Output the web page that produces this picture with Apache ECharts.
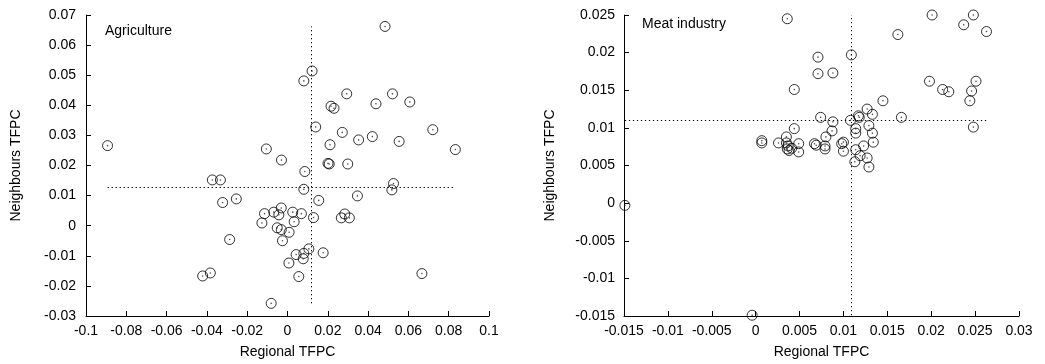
<!DOCTYPE html>
<html>
<head>
<meta charset="utf-8">
<script src="https://cdn.jsdelivr.net/npm/echarts@6/dist/echarts.min.js"></script>
<style>
  html, body { margin: 0; padding: 0; background: #fff; }
  #chart { width: 1045px; height: 364px; }
</style>
</head>
<body>
<div id="chart"></div>
<script>
// Regional vs neighbours TFPC, agriculture
const agriRegional = [
  -0.0893, -0.0105, -0.0030, 0.0081, 0.0122, 0.0086, 0.0484, 0.0294, 0.0521, 0.0439,
  0.0607, 0.0216, 0.0231, 0.0140, 0.0272, 0.0721, 0.0353, 0.0421, 0.0554, 0.0211,
  0.0833, 0.0201, 0.0207, 0.0299, -0.0373, -0.0333, 0.0081, -0.0322, -0.0254, -0.0031,
  -0.0114, -0.0068, -0.0043, 0.0026, 0.0069, 0.0033, -0.0127, 0.0129, -0.0051, -0.0031,
  0.0008, -0.0025, -0.0287, 0.0106, 0.0043, 0.0081, 0.0078, 0.0007, 0.0056, -0.0421,
  -0.0383, -0.0081, 0.0155, 0.0347, 0.0526, 0.0518, 0.0284, 0.0267, 0.0307, 0.0177,
  0.0667
];
const agriNeighbours = [
  0.0266, 0.0255, 0.0218, 0.0481, 0.0514, 0.0180, 0.0662, 0.0438, 0.0438, 0.0405,
  0.0411, 0.0397, 0.0390, 0.0328, 0.0310, 0.0319, 0.0285, 0.0296, 0.0280, 0.0269,
  0.0253, 0.0207, 0.0205, 0.0205, 0.0152, 0.0152, 0.0121, 0.0077, 0.0089, 0.0059,
  0.0040, 0.0045, 0.0036, 0.0045, 0.0040, 0.0013, 0.0009, 0.0027, -0.0007, -0.0013,
  -0.0022, -0.0050, -0.0046, -0.0077, -0.0096, -0.0092, -0.0110, -0.0124, -0.0169, -0.0167,
  -0.0157, -0.0258, 0.0084, 0.0099, 0.0140, 0.0119, 0.0039, 0.0026, 0.0026, -0.0090,
  -0.0159
];
const agriRefX = 0.0119;
const agriRefY = 0.0129;

// Regional vs neighbours TFPC, meat industry
const meatRegional = [
  0.0036, 0.0044, 0.0044, 0.0007, 0.0007, 0.0026, 0.0035, 0.0035, 0.0037, 0.0036,
  0.0038, 0.0041, 0.0049, 0.0049, 0.0067, 0.0069, 0.0079, 0.0079, 0.0080, 0.0087,
  0.0088, 0.0074, 0.0098, 0.0100, 0.0100, 0.0108, 0.0118, 0.0117, 0.0114, 0.0114,
  0.0129, 0.0133, 0.0134, 0.0123, 0.0114, 0.0119, 0.0113, 0.0127, 0.0129, 0.0127,
  0.0133, 0.0145, 0.0166, 0.0071, 0.0109, 0.0071, 0.0088, 0.0162, 0.0201, 0.0248,
  0.0237, 0.0263, 0.0198, 0.0213, 0.0220, 0.0251, 0.0246, 0.0244, 0.0248, -0.0149,
  -0.0004
];
const meatNeighbours = [
  0.0245, 0.0151, 0.0099, 0.0083, 0.0080, 0.0080, 0.0088, 0.0080, 0.0076, 0.0072,
  0.0070, 0.0073, 0.0079, 0.0068, 0.0079, 0.0077, 0.0076, 0.0072, 0.0088, 0.0096,
  0.0108, 0.0114, 0.0079, 0.0081, 0.0069, 0.0110, 0.0114, 0.0116, 0.0099, 0.0093,
  0.0103, 0.0093, 0.0081, 0.0076, 0.0071, 0.0063, 0.0055, 0.0060, 0.0048, 0.0125,
  0.0118, 0.0136, 0.0114, 0.0194, 0.0197, 0.0172, 0.0173, 0.0224, 0.0250, 0.0250,
  0.0237, 0.0228, 0.0162, 0.0151, 0.0148, 0.0162, 0.0149, 0.0136, 0.0101, -0.0003,
  -0.0149
];
const meatRefX = 0.0109;
const meatRefY = 0.0110;

// Axis ranges and tick spacing
const agriXAxis = { min: -0.1, max: 0.1, interval: 0.02 };
const agriYAxis = { min: -0.03, max: 0.07, interval: 0.01 };
const meatXAxis = { min: -0.015, max: 0.03, interval: 0.005 };
const meatYAxis = { min: -0.015, max: 0.025, interval: 0.005 };

const panelTitles = ['Agriculture', 'Meat industry'];
const xName = 'Regional TFPC';
const yName = 'Neighbours TFPC';

const FONT = 'Liberation Sans, Arial, Helvetica, sans-serif';
const INK = '#000';

function pairs(xs, ys) {
  return xs.map((x, i) => [x, ys[i]]);
}

function makeAxis(range, name, gap, labelMargin) {
  return {
    type: 'value',
    min: range.min,
    max: range.max,
    interval: range.interval,
    name: name,
    nameLocation: 'middle',
    nameGap: gap,
    nameTextStyle: { color: INK, fontFamily: FONT, fontSize: 14 },
    axisLine: { show: true, onZero: false, lineStyle: { color: INK, width: 1 } },
    axisTick: { show: true, inside: true, length: 5, lineStyle: { color: INK, width: 1 } },
    axisLabel: { color: INK, fontFamily: FONT, fontSize: 14, margin: labelMargin,
                 showMinLabel: true, showMaxLabel: true },
    splitLine: { show: false }
  };
}

// Dotted reference lines spanning the extent of each panel's data
function refLines(xs, ys, rx, ry) {
  const minX = Math.min(...xs), maxX = Math.max(...xs);
  const minY = Math.min(...ys), maxY = Math.max(...ys);
  return {
    silent: true,
    symbol: ['none', 'none'],
    label: { show: false },
    lineStyle: { color: INK, width: 1, type: [1.3, 2.7] },
    data: [
      [{ coord: [rx, minY] }, { coord: [rx, maxY] }],
      [{ coord: [minX, ry] }, { coord: [maxX, ry] }]
    ]
  };
}

// Open circle markers
function ringSeries(idx, xs, ys, rx, ry) {
  return {
    type: 'scatter',
    xAxisIndex: idx,
    yAxisIndex: idx,
    data: pairs(xs, ys),
    symbol: 'circle',
    symbolSize: 10,
    itemStyle: { color: 'rgba(0,0,0,0)', borderColor: INK, borderWidth: 1 },
    emphasis: { disabled: true },
    markLine: refLines(xs, ys, rx, ry),
    z: 3
  };
}

// Small centre dot inside each circle
function dotSeries(idx, xs, ys) {
  return {
    type: 'scatter',
    xAxisIndex: idx,
    yAxisIndex: idx,
    data: pairs(xs, ys),
    symbol: 'circle',
    symbolSize: 1.6,
    itemStyle: { color: '#222' },
    emphasis: { disabled: true },
    z: 4
  };
}

const chart = echarts.init(document.getElementById('chart'), null, { renderer: 'canvas' });

const titleStyle = { color: INK, fontFamily: FONT, fontSize: 14, fontWeight: 'normal' };

chart.setOption({
  animation: false,
  backgroundColor: '#fff',
  title: [
    { text: panelTitles[0], left: 105, top: 24, padding: 0, textStyle: titleStyle },
    { text: panelTitles[1], left: 642, top: 17, padding: 0, textStyle: titleStyle }
  ],
  grid: [
    { left: 86, top: 15, width: 403, height: 302, containLabel: false },
    { left: 624, top: 15, width: 395, height: 302, containLabel: false }
  ],
  xAxis: [
    Object.assign(makeAxis(agriXAxis, xName, 29, 8), { gridIndex: 0 }),
    Object.assign(makeAxis(meatXAxis, xName, 29, 8), { gridIndex: 1 })
  ],
  yAxis: [
    Object.assign(makeAxis(agriYAxis, yName, 63, 10), { gridIndex: 0 }),
    Object.assign(makeAxis(meatYAxis, yName, 67, 9), { gridIndex: 1 })
  ],
  series: [
    ringSeries(0, agriRegional, agriNeighbours, agriRefX, agriRefY),
    dotSeries(0, agriRegional, agriNeighbours),
    ringSeries(1, meatRegional, meatNeighbours, meatRefX, meatRefY),
    dotSeries(1, meatRegional, meatNeighbours)
  ]
});
</script>
</body>
</html>
